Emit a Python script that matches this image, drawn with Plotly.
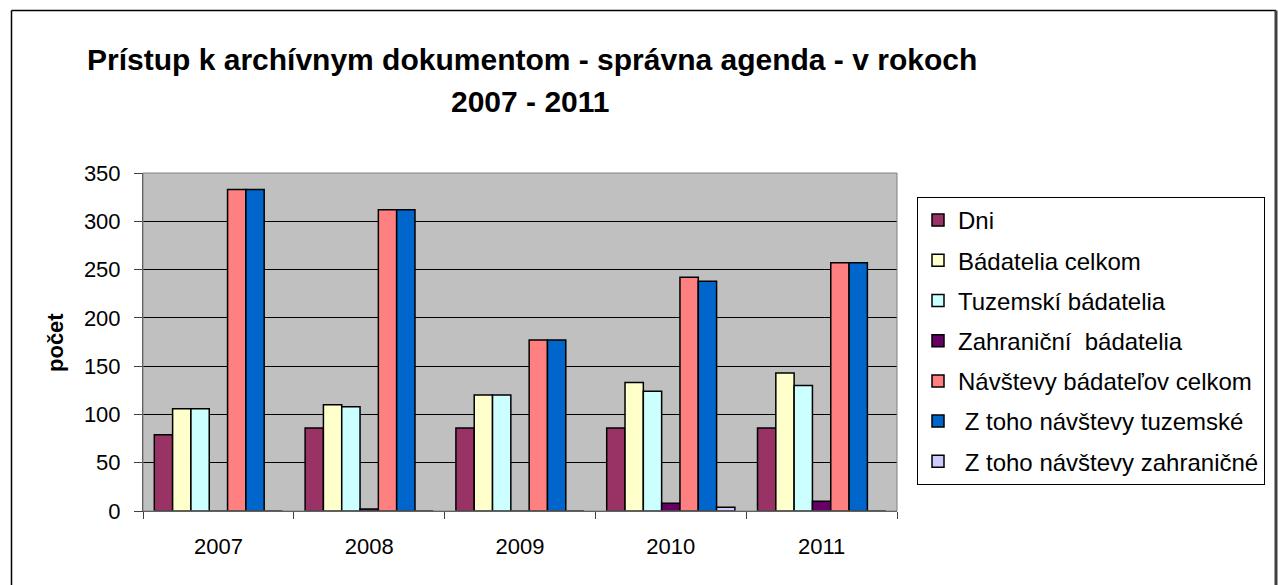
import plotly.graph_objects as go

years = ["2007", "2008", "2009", "2010", "2011"]
dni = [79, 86, 86, 86, 86]
badatelia_celkom = [106, 110, 120, 133, 143]
tuzemski_badatelia = [106, 108, 120, 124, 130]
zahranicni_badatelia = [0, 2, 0, 8, 10]
navstevy_celkom = [333, 312, 177, 242, 257]
navstevy_tuzemske = [333, 312, 177, 238, 257]
navstevy_zahranicne = [0, 0, 0, 4, 0]

series = [
    ("Dni", dni, "#993366"),
    ("Bádatelia celkom", badatelia_celkom, "#FFFFCC"),
    ("Tuzemskí bádatelia", tuzemski_badatelia, "#CCFFFF"),
    ("Zahraniční  bádatelia", zahranicni_badatelia, "#660066"),
    ("Návštevy bádateľov celkom", navstevy_celkom, "#FF8080"),
    (" Z toho návštevy tuzemské", navstevy_tuzemske, "#0066CC"),
    (" Z toho návštevy zahraničné", navstevy_zahranicne, "#CCCCFF"),
]

FONT = "Arial, Liberation Sans, sans-serif"

fig = go.Figure()
for i, (name, vals, col) in enumerate(series):
    fig.add_trace(go.Bar(
        x=years, y=vals, name=name, legendgroup=f"g{i}",
        marker=dict(color=col, line=dict(color="black", width=1.5)),
    ))

# plot area in px: x 143..897, y 173..511
L, R, T, B = 143, 897, 173, 511
W, H = 1278, 585

def px2x(px):
    return (px - L) / (R - L)

def py2y(py):
    return (B - py) / (B - T)

fig.update_layout(
    width=W, height=H,
    margin=dict(l=L, r=W - R, t=T, b=H - B, autoexpand=False),
    paper_bgcolor="white",
    plot_bgcolor="#C0C0C0",
    barmode="group",
    bargap=0.15,
    bargroupgap=0,
    font=dict(family=FONT, size=22, color="black"),
    showlegend=True,
    legend=dict(
        x=px2x(917), y=py2y(197), xanchor="left", yanchor="top",
        bgcolor="white", bordercolor="black", borderwidth=1,
        font=dict(family=FONT, size=24, color="black"),
        tracegroupgap=6, traceorder="grouped",
    ),
    xaxis=dict(
        showgrid=False, showline=True, linecolor="#404040", linewidth=1,
        ticks="outside", ticklen=7, tickcolor="#404040", tickson="boundaries",
        tickfont=dict(family=FONT, size=22), ticklabelstandoff=16, mirror=False,
    ),
    yaxis=dict(
        range=[0, 350], dtick=50, showgrid=True, gridcolor="#000000", gridwidth=1,
        showline=True, linecolor="#404040", linewidth=1,
        ticks="outside", ticklen=8, tickcolor="#404040",
        tickfont=dict(family=FONT, size=22), ticklabelstandoff=9,
        zeroline=False,
    ),
)

# plot area border
fig.add_shape(type="rect", xref="paper", yref="paper", x0=0, x1=1, y0=0, y1=1,
              line=dict(color="#808080", width=1))
# outer chart frame
fig.add_shape(type="line", xref="paper", yref="paper",
              x0=px2x(11.5), x1=px2x(11.5), y0=py2y(600), y1=py2y(10.5),
              line=dict(color="black", width=1.5))
fig.add_shape(type="line", xref="paper", yref="paper",
              x0=px2x(11.5), x1=px2x(1276), y0=py2y(10.5), y1=py2y(10.5),
              line=dict(color="black", width=1.5))
fig.add_shape(type="line", xref="paper", yref="paper",
              x0=px2x(1276), x1=px2x(1276), y0=py2y(600), y1=py2y(10.5),
              line=dict(color="#404040", width=3))

fig.add_annotation(text="<b>Prístup k archívnym dokumentom - správna agenda - v rokoch</b>",
                   xref="paper", yref="paper", x=px2x(532), y=py2y(60),
                   xanchor="center", yanchor="middle", showarrow=False,
                   font=dict(family=FONT, size=30, color="black"))
fig.add_annotation(text="<b>2007 - 2011</b>",
                   xref="paper", yref="paper", x=px2x(530), y=py2y(101),
                   xanchor="center", yanchor="middle", showarrow=False,
                   font=dict(family=FONT, size=30, color="black"))
fig.add_annotation(text="<b>počet</b>", textangle=-90,
                   xref="paper", yref="paper", x=px2x(55), y=py2y(343),
                   xanchor="center", yanchor="middle", showarrow=False,
                   font=dict(family=FONT, size=22, color="black"))

fig.write_html("out.html", config={"displayModeBar": False},
               post_script="document.body.style.margin='0';document.body.style.overflow='hidden';")
